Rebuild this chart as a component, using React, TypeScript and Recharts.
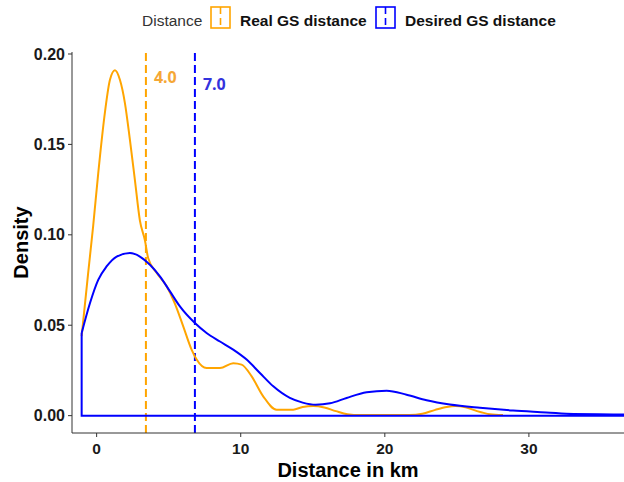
import { Line, LineChart, ReferenceLine, XAxis, YAxis } from "recharts";

const ORANGE = "#ffa500";
const BLUE = "#0000ff";
const FONT = "'Liberation Sans', Arial, sans-serif";

// density estimates (x in km, y = density)
const REAL_X = [-1.04, -0.6, -0.24, 0.11, 0.58, 0.92, 1.27, 1.62, 1.96, 2.31, 2.66, 3.0, 3.35, 3.58, 4.16, 4.86, 5.43, 6.01, 6.59, 6.94, 7.63, 8.56, 9.48, 10.06, 10.76, 11.56, 12.49, 13.64, 14.3, 15.03, 15.8, 16.6, 17.4, 18.3, 21.7, 22.6, 23.5, 24.3, 24.9, 25.6, 26.4, 27.3, 28.2];
const REAL_Y = [0.044, 0.078, 0.105, 0.134, 0.168, 0.1856, 0.191, 0.1856, 0.173, 0.1525, 0.13, 0.108, 0.097, 0.087, 0.079, 0.0715, 0.062, 0.0494, 0.0365, 0.031, 0.0263, 0.0263, 0.029, 0.0282, 0.0217, 0.0107, 0.0033, 0.0033, 0.0048, 0.0053, 0.0045, 0.0025, 0.0008, 0.0003, 0.0003, 0.001, 0.0032, 0.0048, 0.0053, 0.0046, 0.0025, 0.0008, 0.0003];

const DESIRED_X = [-1.04, -0.46, 0.11, 0.69, 1.39, 2.31, 3.0, 3.7, 4.39, 5.09, 5.78, 6.82, 7.63, 8.56, 9.48, 10.41, 11.33, 12.26, 13.41, 14.3, 15.2, 16.2, 17.35, 18.74, 20.13, 21.51, 22.9, 24.52, 26.6, 28.9, 31.2, 33.1, 35.85, 38];
const DESIRED_Y = [0.0457, 0.0623, 0.0751, 0.0825, 0.088, 0.0899, 0.088, 0.0834, 0.077, 0.0687, 0.0604, 0.0512, 0.0457, 0.041, 0.0365, 0.031, 0.0236, 0.0162, 0.0098, 0.0072, 0.006, 0.0068, 0.0098, 0.0129, 0.0138, 0.0116, 0.0085, 0.0061, 0.0043, 0.0028, 0.0018, 0.0009, 0.0007, 0.0005];

const MEDIAN_X = [3.42, 6.82];
const MEDIAN_LABELS = ["4.0", "7.0"];
const MEDIAN_COLORS = ["#f5a735", "#3333dd"];
const MEDIAN_LABEL_DY = [31, 38];

const X_TICKS = [0, 10, 20, 30];
const Y_TICKS = [0, 0.05, 0.1, 0.15, 0.2];

const toPoints = (xs: number[], ys: number[]) => xs.map((x, i) => ({ x, y: ys[i] }));
// ggplot draws density as an outline polygon: left edge down to 0 and a baseline
const closure = (xs: number[], ys: number[]) => [
  { x: xs[0], y: ys[0] },
  { x: xs[0], y: 0 },
  { x: xs[xs.length - 1], y: 0 },
];

const realData = toPoints(REAL_X, REAL_Y);
const desiredData = toPoints(DESIRED_X, DESIRED_Y);

const xTickStyle = { fontSize: 15.5, fontWeight: 700, fill: "#1a1a1a", fontFamily: FONT };
const yTickStyle = { fontSize: 16, fontWeight: 700, fill: "#1a1a1a", fontFamily: FONT };

function YTitle(props: any) {
  const vb = props.viewBox ?? { x: 0, y: 52, height: 381 };
  const cx = vb.x + 28;
  const cy = vb.y + vb.height / 2;
  return (
    <text x={cx} y={cy} transform={`rotate(-90 ${cx} ${cy})`} textAnchor="middle" fontSize={20} fontWeight={700} fontFamily={FONT} fill="#000">
      Density
    </text>
  );
}

function XTitle(props: any) {
  const vb = props.viewBox ?? { x: 72, y: 433, width: 552 };
  return (
    <text x={vb.x + vb.width / 2} y={vb.y + 44} textAnchor="middle" fontSize={20} fontWeight={700} fontFamily={FONT} fill="#000">
      Distance in km
    </text>
  );
}

function LegendKey({ x, color }: { x: number; color: string }) {
  return (
    <g>
      <rect x={x} y={7} width={19} height={21} fill="none" stroke={color} strokeWidth={1.6} />
      <line x1={x + 9.5} x2={x + 9.5} y1={7} y2={28} stroke={color} strokeWidth={1.6} strokeDasharray="7 4" />
    </g>
  );
}

function TopLegend() {
  return (
    <svg width={624} height={40} style={{ position: "absolute", left: 0, top: 0 }}>
      <text x={142} y={26} fontSize={15.5} fontFamily={FONT} fill="#333">Distance</text>
      <LegendKey x={211} color={ORANGE} />
      <text x={240} y={26} fontSize={15.5} fontWeight={700} fontFamily={FONT} fill="#111">Real GS distance</text>
      <LegendKey x={376} color={BLUE} />
      <text x={405} y={26} fontSize={15.5} fontWeight={700} fontFamily={FONT} fill="#111">Desired GS distance</text>
    </svg>
  );
}

export default function App() {
  return (
    <div style={{ position: "absolute", left: 0, top: 0, width: 624, height: 482, background: "#fff" }}>
      <LineChart width={624} height={482} margin={{ top: 52, right: 0, bottom: 0, left: 0 }}>
        <XAxis
          type="number"
          dataKey="x"
          domain={[-1.71, 36.6]}
          allowDataOverflow
          ticks={X_TICKS}
          height={49}
          tick={xTickStyle}
          tickSize={4}
          tickMargin={6}
          stroke="#333"
          label={<XTitle />}
        />
        <YAxis
          type="number"
          domain={[-0.0096, 0.2011]}
          allowDataOverflow
          ticks={Y_TICKS}
          width={72}
          tick={yTickStyle}
          tickSize={4}
          tickMargin={3}
          tickFormatter={(v: number) => v.toFixed(2)}
          stroke="#333"
          label={<YTitle />}
        />
        {MEDIAN_X.map((mx, i) => (
          <ReferenceLine
            key={MEDIAN_LABELS[i]}
            x={mx}
            stroke={i === 0 ? ORANGE : BLUE}
            strokeWidth={2}
            strokeDasharray="8 4"
            label={(p: any) => (
              <text x={p.viewBox.x + 8} y={p.viewBox.y + MEDIAN_LABEL_DY[i]} fontSize={16} fontWeight={700} fontFamily="'Open Sans', sans-serif" fill={MEDIAN_COLORS[i]}>
                {MEDIAN_LABELS[i]}
              </text>
            )}
          />
        ))}
        <Line data={realData} dataKey="y" type="monotone" stroke={ORANGE} strokeWidth={2} dot={false} activeDot={false} isAnimationActive={false} />
        <Line data={closure(DESIRED_X, DESIRED_Y)} dataKey="y" type="linear" stroke={BLUE} strokeWidth={2} dot={false} activeDot={false} isAnimationActive={false} />
        <Line data={desiredData} dataKey="y" type="monotone" stroke={BLUE} strokeWidth={2} dot={false} activeDot={false} isAnimationActive={false} />
      </LineChart>
      <TopLegend />
    </div>
  );
}
